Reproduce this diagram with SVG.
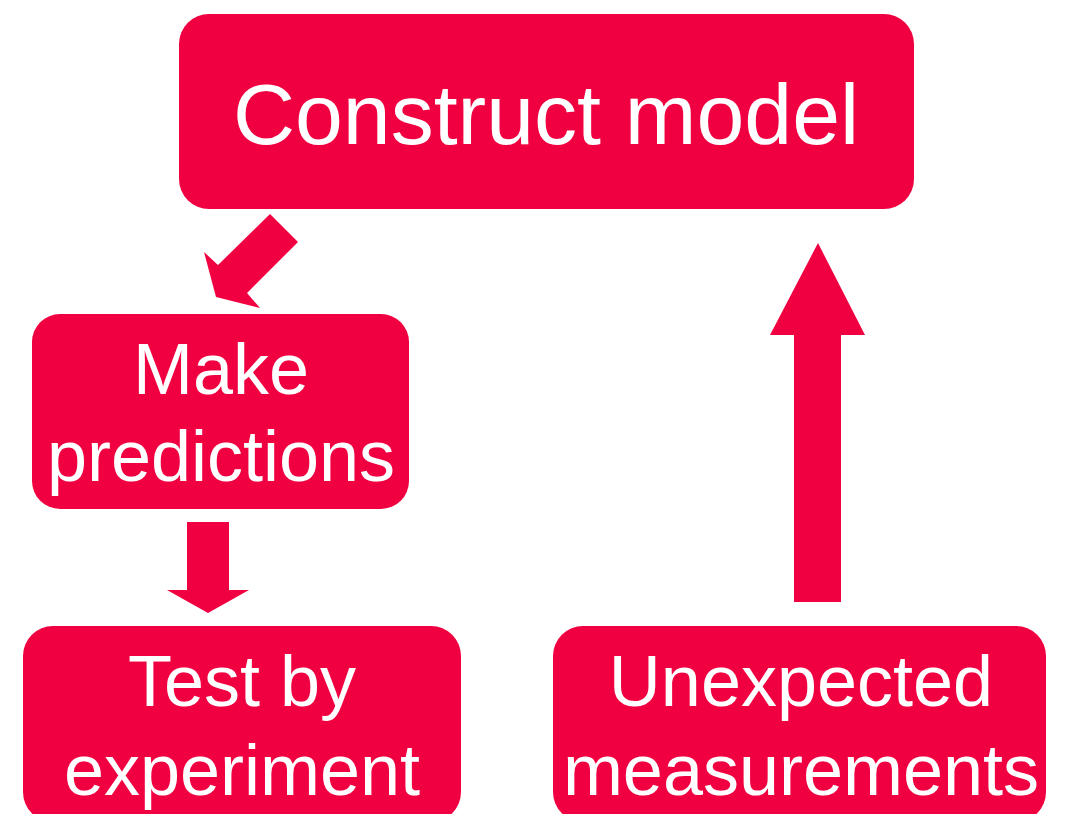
<svg xmlns="http://www.w3.org/2000/svg" width="1066" height="814" viewBox="0 0 1066 814">
<style>
.box{fill:#F00041}
.arrow{fill:#F00041}
.lbl{fill:#FFFFFF;font-family:"Liberation Sans",Arial,sans-serif;text-anchor:middle}
</style>
<rect x="0" y="0" width="1066" height="814" fill="#FFFFFF"/>
<g id="construct-model">
<rect class="box" x="179" y="14" width="735" height="195" rx="30"/>
<text class="lbl" x="546" y="144" font-size="86">Construct model</text>
</g>
<g id="make-predictions">
<rect class="box" x="32" y="314" width="377" height="195" rx="28"/>
<text class="lbl" x="221" y="394" font-size="72">Make</text>
<text class="lbl" x="221" y="481" font-size="72">predictions</text>
</g>
<g id="test-by-experiment">
<rect class="box" x="23" y="626" width="438" height="196" rx="30"/>
<text class="lbl" x="242" y="706" font-size="72">Test by</text>
<text class="lbl" x="242" y="795" font-size="72">experiment</text>
</g>
<g id="unexpected-measurements">
<rect class="box" x="553" y="626" width="493" height="196" rx="30"/>
<text class="lbl" x="801" y="706" font-size="72">Unexpected</text>
<text class="lbl" x="801" y="795" font-size="72">measurements</text>
</g>
<g id="connectors">
<polygon class="arrow" points="270,214 298,242 247,293 260,308 216,297 204,252 218,265"/>
<polygon class="arrow" points="187,522 229,522 229,590 249,590 208,613 167,590 187,590"/>
<polygon class="arrow" points="794,602 841,602 841,335 865,335 818,243 770,335 794,335"/>
</g>
</svg>
